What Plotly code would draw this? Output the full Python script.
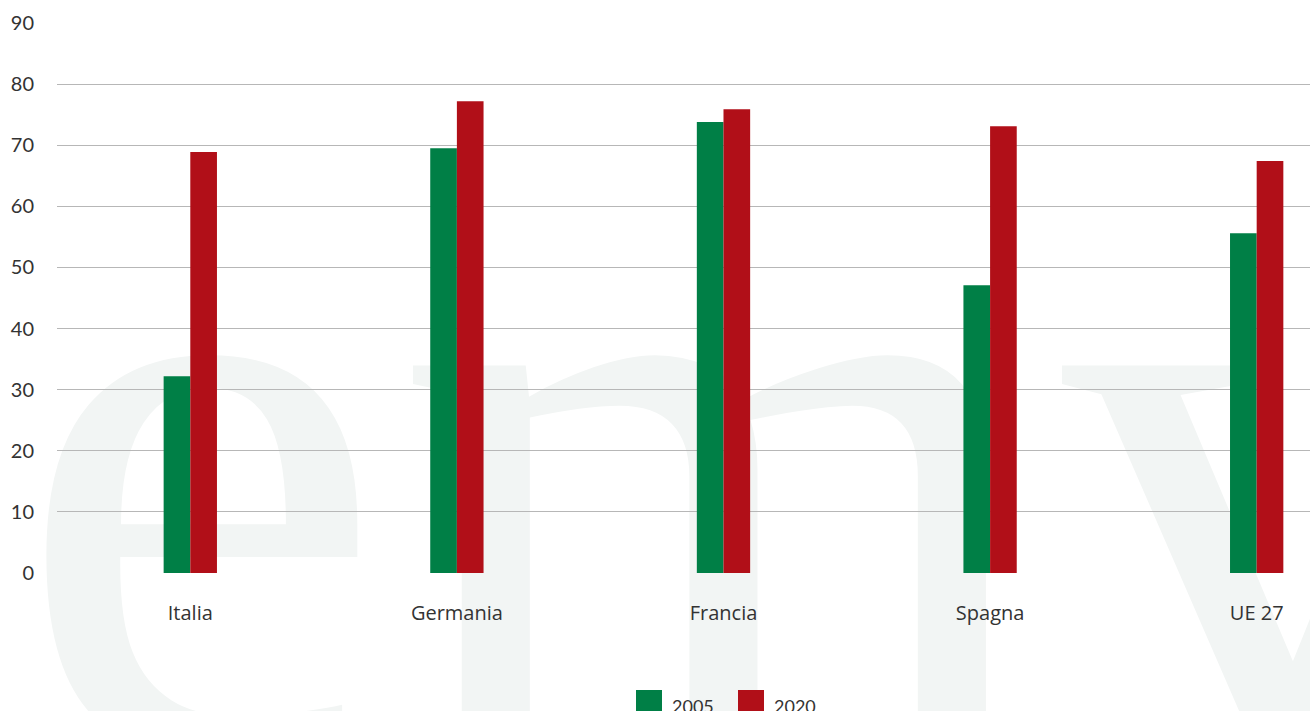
import plotly.graph_objects as go

# Data
countries = ["Italia", "Germania", "Francia", "Spagna", "UE 27"]
years = ["2005", "2020"]
values_2005 = [32.2, 69.5, 73.8, 47.1, 55.6]
values_2020 = [68.9, 77.2, 75.9, 73.1, 67.4]
y_ticks = [0, 10, 20, 30, 40, 50, 60, 70, 80, 90]

# Styling
W, H = 1310, 711
GREEN = "#007f46"
RED = "#b10f18"
WATERMARK = "#f2f5f4"
TEXT = "#333333"
GRID = "#b7b7b7"

# Background lettering (drawn on its own pixel-space subplot beneath the chart)
mark_letters = ["e", "m", "v"]
mark_x = [200, 722, 1272]
mark_y = [541, 541, 541]
mark_size = 840

fig = go.Figure()

fig.add_trace(go.Scatter(
    x=mark_x, y=mark_y, text=mark_letters, mode="text",
    textposition="middle center",
    textfont=dict(family="Liberation Serif", size=mark_size, color=WATERMARK),
    cliponaxis=False, hoverinfo="skip", showlegend=False,
    xaxis="x", yaxis="y",
))

fig.add_trace(go.Bar(
    x=countries, y=values_2005, name=years[0], marker_color=GREEN,
    marker_line_width=0, xaxis="x2", yaxis="y2",
))
fig.add_trace(go.Bar(
    x=countries, y=values_2020, name=years[1], marker_color=RED,
    marker_line_width=0, xaxis="x2", yaxis="y2",
))

# Plot area in pixels
left_px, top_px, bottom_px = 57, 23, 573

fig.update_layout(
    width=W, height=H,
    margin=dict(l=0, r=0, t=0, b=0),
    paper_bgcolor="white", plot_bgcolor="rgba(0,0,0,0)",
    showlegend=False,
    barmode="group", bargap=0.8, bargroupgap=0,
    xaxis=dict(domain=[0, 1], range=[0, W], visible=False, fixedrange=True),
    yaxis=dict(domain=[0, 1], range=[H, 0], visible=False, fixedrange=True),
    xaxis2=dict(
        domain=[left_px / W, 1], range=[-0.5, 4.2], anchor="y2",
        showgrid=False, showline=False, zeroline=False, ticks="",
        ticklabelstandoff=26,
        tickfont=dict(family="Open Sans", size=20, color=TEXT),
        automargin=False,
    ),
    yaxis2=dict(
        domain=[(H - bottom_px) / H, (H - top_px) / H], range=[0, 90],
        anchor="x2", tickvals=y_ticks, showgrid=True, gridcolor=GRID,
        gridwidth=1, zeroline=False, showline=False, ticks="",
        ticklabelstandoff=22,
        tickfont=dict(family="Lato", size=20, color=TEXT),
        automargin=False,
    ),
    font=dict(family="Open Sans", color=TEXT),
)

# Legend swatches and labels along the bottom edge
legend_colors = [GREEN, RED]
legend_x = [636, 738]
for label, color, x0 in zip(years, legend_colors, legend_x):
    fig.add_shape(
        type="rect", xref="paper", yref="paper",
        x0=x0 / W, x1=(x0 + 26) / W, y0=(H - 690) / H, y1=-0.05,
        fillcolor=color, line_width=0, layer="above",
    )
    fig.add_annotation(
        text=label, xref="paper", yref="paper",
        x=(x0 + 34) / W, y=(H - 706) / H, xanchor="left", yanchor="middle",
        showarrow=False, font=dict(family="Lato", size=18, color=TEXT),
    )

fig.write_html("out.html")
